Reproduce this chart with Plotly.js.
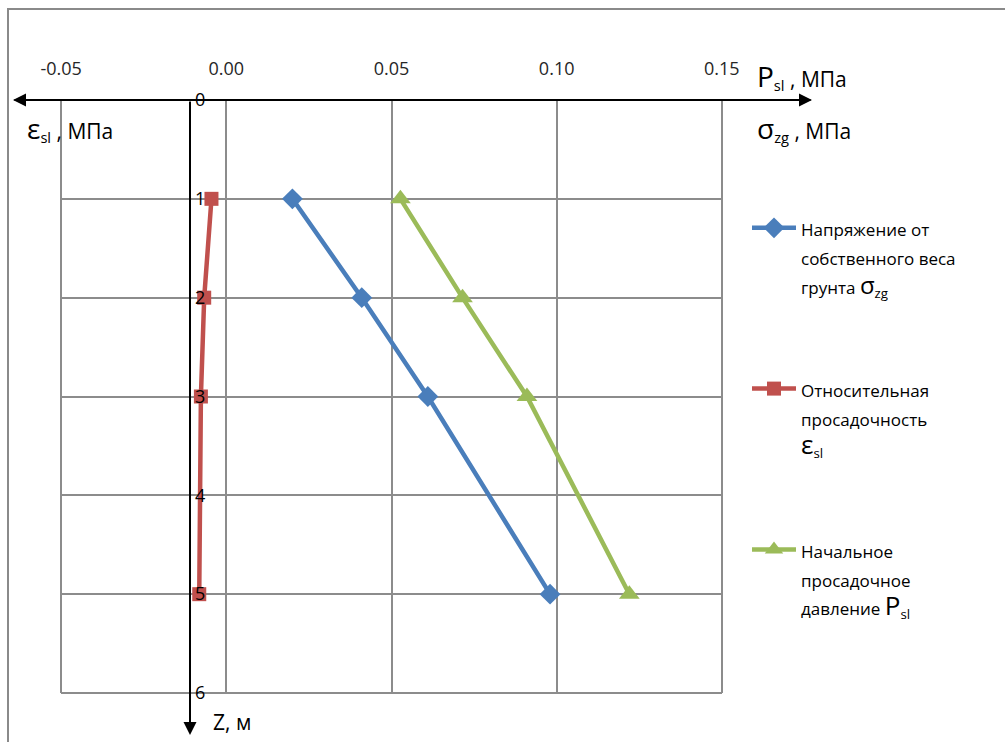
<!DOCTYPE html>
<html>
<head>
<meta charset="utf-8">
<script src="https://cdn.plot.ly/plotly-3.0.1.min.js"></script>
<style>html,body{margin:0;padding:0;background:#fff;}#chart{width:1005px;height:742px;}</style>
</head>
<body>
<div id="chart"></div>
<script>
// Depth Z, m
const depthZ = [1, 2, 3, 5];
// Напряжение от собственного веса грунта σzg, МПа
const sigmaZg = [0.020, 0.041, 0.061, 0.098];
// Относительная просадочность εsl
const epsSl = [-0.0045, -0.0067, -0.0077, -0.0082];
// Начальное просадочное давление Psl, МПа
const pSl = [0.0527, 0.0715, 0.091, 0.122];

const xTicks = [-0.05, 0.00, 0.05, 0.10, 0.15];
const xTickText = ['-0.05', '0.00', '0.05', '0.10', '0.15'];
const yTicks = [0, 1, 2, 3, 4, 5, 6];
const yAxisAt = -0.011;

const FONT = '"Open Sans", "Noto Sans", sans-serif';

const s = t => "<span style='font-size:17px'>" + t + "</span>";
const sub = t => "<span style='font-size:19px'><sub>" + t + "</sub></span>";
const names = [
  s("Напряжение от") + "<br>" + s("собственного веса") + "<br>" + s("грунта ") + "<span style='font-size:24px'>σ</span>" + sub("zg"),
  s("Относительная") + "<br>" + s("просадочность") + "<br>" + "<span style='font-size:26px'>ε</span>" + sub("sl"),
  s("Начальное") + "<br>" + s("просадочное") + "<br>" + s("давление ") + "<span style='font-size:26px'>P</span>" + sub("sl")
];

const traces = [
  {x: sigmaZg, y: depthZ, name: names[0], legendgroup: 'a', mode: 'lines+markers',
   line: {color: '#4A7EBB', width: 4.5}, marker: {symbol: 'diamond', size: 16, color: '#4A7EBB'}},
  {x: epsSl, y: depthZ, name: names[1], legendgroup: 'b', mode: 'lines+markers',
   line: {color: '#C0504D', width: 4.5}, marker: {symbol: 'square', size: 14, color: '#C0504D'}},
  {x: pSl, y: depthZ, name: names[2], legendgroup: 'c', mode: 'lines+markers',
   line: {color: '#9BBB59', width: 4.5}, marker: {symbol: 'triangle-up', size: 18, color: '#9BBB59'}}
];

const L = 61, R = 722, T = 100, B = 693;
const W = R - L, H = B - T;
const px = v => (v - L) / W;
const py = v => (B - v) / H;

const layout = {
  width: 1005, height: 742,
  margin: {l: L, r: 1005 - R, t: T, b: 742 - B},
  paper_bgcolor: '#fff', plot_bgcolor: '#fff',
  font: {family: FONT, size: 15, color: '#000'},
  showlegend: true,
  legend: {
    x: px(747), y: py(207), xanchor: 'left', yanchor: 'top',
    font: {family: FONT, size: 22, color: '#000'},
    traceorder: 'grouped', tracegroupgap: 72, valign: 'top',
    bgcolor: 'rgba(0,0,0,0)', itemwidth: 44
  },
  xaxis: {
    range: [-0.05005, 0.15005], side: 'top', tickvals: xTicks, ticktext: xTickText,
    showgrid: true, gridcolor: '#8C8C8C', gridwidth: 2, zeroline: false,
    showline: false, ticks: '', ticklabelstandoff: 20, ticklabeloverflow: 'allow',
    tickfont: {family: FONT, size: 18, color: '#262626'}
  },
  yaxis: {
    range: [6, 0], tickvals: yTicks, anchor: 'free', position: px(191),
    showgrid: true, gridcolor: '#8C8C8C', gridwidth: 2, zeroline: false,
    showline: false, ticks: '', ticklabelposition: 'inside', ticklabelstandoff: 0,
    ticklabeloverflow: 'allow',
    tickfont: {family: FONT, size: 18, color: '#000'}
  },
  shapes: [
    {type: 'rect', xref: 'paper', yref: 'paper', x0: px(8), x1: px(1020), y0: py(760), y1: py(9),
     line: {color: '#8A8A8A', width: 2}, layer: 'below'},
    {type: 'line', xref: 'paper', yref: 'paper', x0: 0, x1: 0, y0: 0, y1: 1, line: {color: '#8C8C8C', width: 2}, layer: 'below'},
    {type: 'line', xref: 'paper', yref: 'paper', x0: 1, x1: 1, y0: 0, y1: 1, line: {color: '#8C8C8C', width: 2}, layer: 'below'},
    {type: 'line', xref: 'paper', yref: 'paper', x0: 0, x1: 1, y0: 0, y1: 0, line: {color: '#8C8C8C', width: 2}, layer: 'below'}
  ],
  annotations: [
    // horizontal axis with arrows at both ends
    {xref: 'paper', yref: 'paper', x: px(812), y: 1, ax: -(812 - 13), ay: 0, axref: 'pixel', ayref: 'pixel',
     showarrow: true, text: '', arrowhead: 2, arrowsize: 1.3, arrowwidth: 2, arrowcolor: '#000'},
    {xref: 'paper', yref: 'paper', x: px(13), y: 1, ax: (812 - 13), ay: 0, axref: 'pixel', ayref: 'pixel',
     showarrow: true, text: '', arrowhead: 2, arrowsize: 1.3, arrowwidth: 2, arrowcolor: '#000'},
    // vertical axis with arrow downward
    {xref: 'x', yref: 'paper', x: yAxisAt, y: py(735), ax: 0, ay: -(735 - 100), axref: 'pixel', ayref: 'pixel',
     showarrow: true, text: '', arrowhead: 2, arrowsize: 1.3, arrowwidth: 2, arrowcolor: '#000'},
    // axis titles
    {xref: 'paper', yref: 'paper', x: px(25), y: py(128), xanchor: 'left', yanchor: 'middle', showarrow: false,
     text: "<span style='font-size:28px'>ε</span><sub>sl</sub> , МПа", font: {family: FONT, size: 21, color: '#000'}},
    {xref: 'paper', yref: 'paper', x: px(755), y: py(76), xanchor: 'left', yanchor: 'middle', showarrow: false,
     text: "<span style='font-size:28px'>P</span><sub>sl</sub> , МПа", font: {family: FONT, size: 21, color: '#000'}},
    {xref: 'paper', yref: 'paper', x: px(755), y: py(128), xanchor: 'left', yanchor: 'middle', showarrow: false,
     text: "<span style='font-size:28px'>σ</span><sub>zg</sub> , МПа", font: {family: FONT, size: 21, color: '#000'}},
    {xref: 'paper', yref: 'paper', x: px(211), y: py(722), xanchor: 'left', yanchor: 'middle', showarrow: false,
     text: "Z, м", font: {family: FONT, size: 21, color: '#000'}}
  ]
};

Plotly.newPlot('chart', traces, layout, {displayModeBar: false, staticPlot: true});
</script>
</body>
</html>
